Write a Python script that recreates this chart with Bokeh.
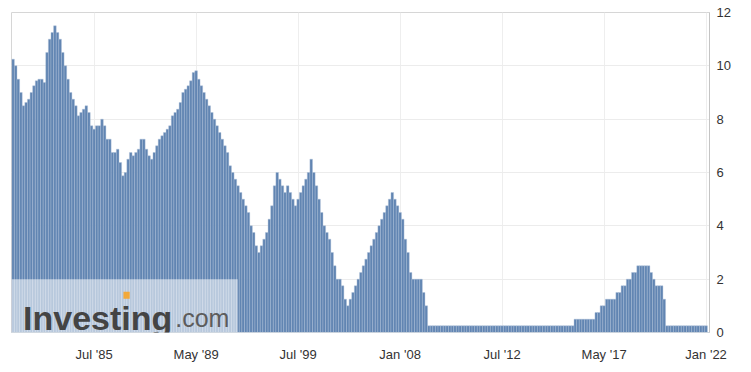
from bokeh.plotting import figure
from bokeh.models import Range1d, FixedTicker, LinearAxis, BoxAnnotation, Label, ColumnDataSource
from bokeh.embed import file_html
from bokeh.resources import INLINE

# Rate per announcement (each bar is one data point, equally spaced)
rates = [
    10.25, 10.0, 9.5, 9.0, 8.5, 8.625, 8.75, 9.0, 9.25, 9.4375,
    9.5, 9.5, 9.375, 10.5, 11.0, 11.25, 11.5, 11.25, 11.0, 10.5,
    10.0, 9.5, 9.0, 8.75, 8.5, 8.125, 8.25, 8.375, 8.5, 8.25,
    7.75, 7.625, 7.75, 7.75, 8.0, 7.75, 7.25, 7.25, 6.75, 6.75,
    6.875, 6.375,
    5.875, 6.0, 6.5, 6.75, 6.625, 6.75, 6.875, 7.25,
    7.25, 6.875, 6.625, 6.5, 6.75, 7.0, 7.25, 7.375, 7.5, 7.625,
    7.75, 8.125, 8.25, 8.375, 8.625, 9.0, 9.125, 9.25, 9.4375, 9.75, 9.8125,
    9.5, 9.25, 9.0, 8.75, 8.5, 8.25, 8.0, 7.75, 7.5, 7.25,
    7.0, 6.75, 6.25, 6.0, 5.75, 5.5, 5.25, 5.0, 4.75, 4.5,
    4.0, 3.75, 3.25, 3.0, 3.25, 3.5, 3.75, 4.25, 4.75, 5.5,
    6.0, 5.75, 5.5, 5.25, 5.5, 5.25, 5.0, 4.75, 5.0, 5.25,
    5.5, 5.75, 6.0, 6.5,
    6.0, 5.5, 5.0, 4.5, 4.0, 3.75, 3.5, 3.0, 2.5, 2.0,
    2.0, 1.75, 1.25, 1.0, 1.25, 1.5, 1.75, 2.0, 2.25, 2.5,
    2.75, 3.0, 3.25, 3.5, 3.75, 4.0, 4.25, 4.5, 4.75, 5.0,
    5.25, 5.0, 4.75, 4.5, 4.25, 3.5, 3.0, 2.25, 2.0, 2.0,
    2.0, 2.0, 1.5, 1.0,
    0.25, 0.25, 0.25, 0.25, 0.25, 0.25, 0.25, 0.25, 0.25, 0.25,
    0.25, 0.25, 0.25, 0.25, 0.25, 0.25, 0.25, 0.25, 0.25, 0.25,
    0.25, 0.25, 0.25, 0.25, 0.25, 0.25, 0.25, 0.25, 0.25, 0.25,
    0.25, 0.25, 0.25, 0.25, 0.25, 0.25, 0.25, 0.25, 0.25, 0.25,
    0.25, 0.25, 0.25, 0.25, 0.25, 0.25, 0.25, 0.25, 0.25, 0.25,
    0.25, 0.25, 0.25, 0.25, 0.25, 0.25,
    0.5, 0.5, 0.5, 0.5, 0.5, 0.5, 0.5, 0.5,
    0.75, 0.75, 1.0, 1.0, 1.25, 1.25, 1.25, 1.25,
    1.5, 1.5, 1.75, 1.75, 2.0, 2.0, 2.25, 2.25,
    2.5, 2.5, 2.5, 2.5, 2.5, 2.25, 2.0, 1.75, 1.75, 1.75, 1.25,
    0.25, 0.25, 0.25, 0.25, 0.25, 0.25, 0.25, 0.25,
    0.25, 0.25, 0.25, 0.25, 0.25, 0.25, 0.25, 0.25,
]
bar_index = list(range(len(rates)))

tick_index = [31, 70, 109, 148, 187, 226, 265]
tick_labels = ["Jul '85", "May '89", "Jul '99", "Jan '08", "Jul '12", "May '17", "Jan '22"]
y_ticks = [0, 2, 4, 6, 8, 10, 12]

source = ColumnDataSource(dict(x=bar_index, top=rates))

p = figure(
    frame_width=698, frame_height=320,
    x_range=Range1d(-0.6, len(rates) + 0.3), y_range=Range1d(0, 12),
    output_backend="svg", toolbar_location=None,
    min_border_left=11, min_border_top=12, min_border_right=4, min_border_bottom=2,
    x_axis_location="below", y_axis_location=None,
)
p.background_fill_color = "white"
p.border_fill_color = "white"
p.outline_line_color = "#d6d6d6"
p.outline_line_width = 1

p.vbar(x="x", top="top", width=1.0, source=source,
       fill_color="#6185b2", line_color="#adc1da", line_width=0.4)

# x axis
xa = p.xaxis[0]
xa.ticker = FixedTicker(ticks=tick_index)
xa.major_label_overrides = {t: l for t, l in zip(tick_index, tick_labels)}
xa.major_tick_out = 0
xa.major_tick_in = 0
xa.minor_tick_out = 0
xa.minor_tick_in = 0
xa.axis_line_color = "#c9d2dc"
xa.major_label_standoff = 14
xa.major_label_text_font = "Liberation Sans"
xa.major_label_text_font_size = "13px"
xa.major_label_text_color = "#333333"

# right y axis
ya = LinearAxis(ticker=FixedTicker(ticks=y_ticks))
ya.major_tick_out = 0
ya.major_tick_in = 0
ya.minor_tick_out = 0
ya.minor_tick_in = 0
ya.axis_line_color = "#c4c4c4"
ya.major_label_standoff = 7
ya.major_label_text_font = "Liberation Sans"
ya.major_label_text_font_size = "13px"
ya.major_label_text_color = "#333333"
p.add_layout(ya, "right")

p.xgrid.ticker = FixedTicker(ticks=tick_index)
p.xgrid.grid_line_color = "#eeeeee"
p.ygrid.ticker = FixedTicker(ticks=y_ticks)
p.ygrid.grid_line_color = "#ececec"

# watermark
p.add_layout(BoxAnnotation(left=-0.6, right=85.9, bottom=0, top=2.0,
                           fill_color="white", fill_alpha=0.55, line_alpha=0))
p.add_layout(Label(x=3.8, y=0.55, text="Investing", text_font="Liberation Sans",
                   text_font_style="bold", text_font_size="34px", text_color="#444444",
                   text_baseline="alphabetic"))
p.add_layout(Label(x=62.0, y=0.55, text=".com", text_font="Liberation Sans",
                   text_font_size="25px", text_color="#5c5c5c", text_baseline="alphabetic"))
p.add_layout(BoxAnnotation(left=42.2, right=44.6, bottom=1.27, top=1.53,
                           fill_color="#f2a93b", fill_alpha=1.0, line_alpha=0))

open("out.html", "w").write(file_html(p, INLINE))
